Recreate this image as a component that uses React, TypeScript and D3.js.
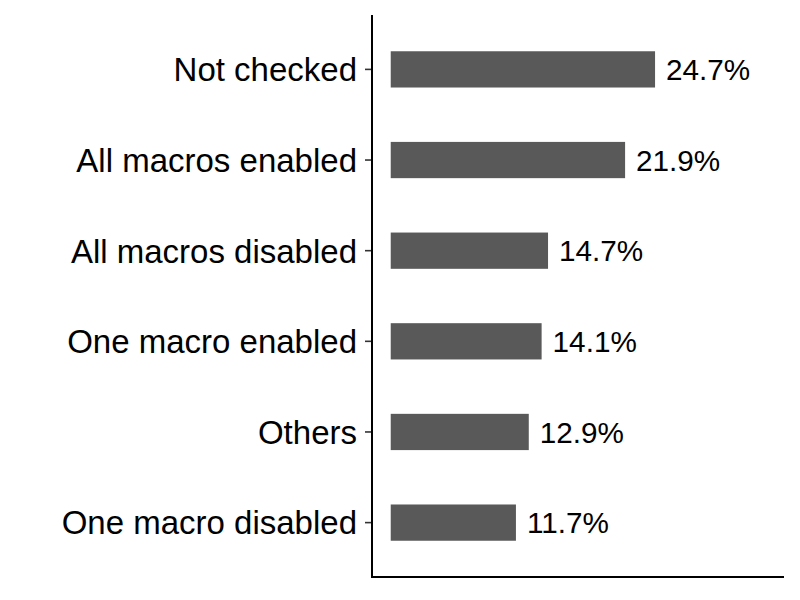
import React from "react";
import * as d3 from "d3";

const categories = [
  "Not checked",
  "All macros enabled",
  "All macros disabled",
  "One macro enabled",
  "Others",
  "One macro disabled",
];
const values = [24.7, 21.9, 14.7, 14.1, 12.9, 11.7];
const valueLabels = ["24.7%", "21.9%", "14.7%", "14.1%", "12.9%", "11.7%"];

const W = 800;
const H = 600;
const panel = { left: 372, right: 784, top: 15, bottom: 577 };
const FONT = "'Liberation Sans', Arial, Helvetica, sans-serif";

export default function App() {
  const xMax = 35;
  const x = d3
    .scaleLinear()
    .domain([-0.05 * xMax, xMax * 1.05])
    .range([panel.left, panel.right]);

  const n = categories.length;
  const unit = (panel.bottom - panel.top) / (n - 1 + 1.2);
  const y = d3
    .scalePoint<string>()
    .domain(categories)
    .range([panel.top + 0.6 * unit, panel.bottom - 0.6 * unit]);
  const barH = 0.4 * unit;

  return (
    <div style={{ position: "absolute", left: 0, top: 0 }}>
      <svg width={W} height={H} style={{ display: "block", background: "#fff" }}>
        <rect x={0} y={0} width={W} height={H} fill="#fff" />
        {categories.map((c, i) => {
          const cy = y(c) as number;
          const x0 = x(0);
          const x1 = x(values[i]);
          return (
            <g key={c}>
              <rect
                x={x0}
                y={cy - barH / 2}
                width={x1 - x0}
                height={barH}
                fill="#595959"
              />
              <text
                x={x1 + 11}
                y={cy}
                dy="0.36em"
                fontFamily={FONT}
                fontSize={29.7}
                fill="#000"
              >
                {valueLabels[i]}
              </text>
              <line
                x1={panel.left - 7}
                x2={panel.left}
                y1={cy}
                y2={cy}
                stroke="#333"
                strokeWidth={1.6}
              />
              <text
                x={panel.left - 15}
                y={cy}
                dy="0.36em"
                textAnchor="end"
                fontFamily={FONT}
                fontSize={33}
                fill="#000"
              >
                {c}
              </text>
            </g>
          );
        })}
        <line
          x1={panel.left}
          x2={panel.left}
          y1={panel.top}
          y2={panel.bottom}
          stroke="#000"
          strokeWidth={2}
        />
        <line
          x1={panel.left - 1}
          x2={panel.right}
          y1={panel.bottom}
          y2={panel.bottom}
          stroke="#000"
          strokeWidth={2}
        />
      </svg>
    </div>
  );
}
